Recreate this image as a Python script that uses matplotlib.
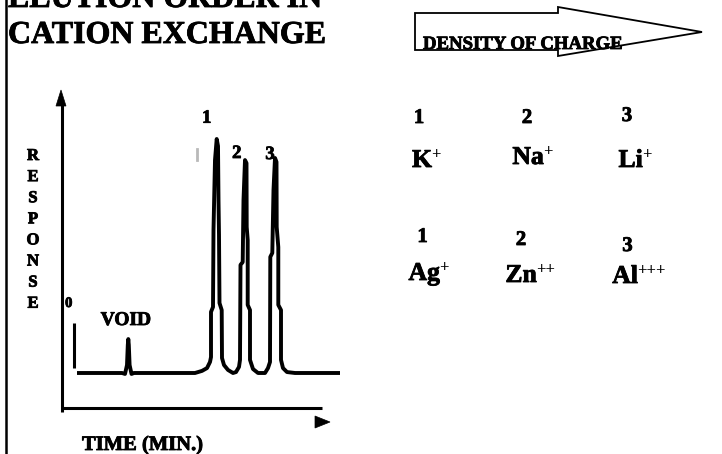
import matplotlib
matplotlib.use("Agg")
import matplotlib.pyplot as plt
from matplotlib.patches import Polygon
import matplotlib.patheffects as pe

# ---- chromatogram trace (time in min, detector response in % of peak 1) ----
time_min = [0.30, 4.80, 5.10, 5.30, 5.38, 5.43, 5.48, 5.56, 5.75, 6.00,
            12.10, 12.80, 13.30, 13.60, 13.70, 13.70, 13.90, 13.95, 14.10, 14.27,
            14.40, 14.45, 14.50, 14.55, 14.77, 14.80, 15.00, 15.40, 15.90, 16.20,
            16.50, 16.60, 16.65, 16.87, 16.95, 17.10, 17.25, 17.27, 17.37, 17.37,
            17.60, 17.60, 17.90, 18.40, 19.10, 19.40, 19.60, 19.63, 19.83, 19.95,
            20.10, 20.25, 20.27, 20.43, 20.43, 20.70, 20.70, 20.90, 21.30, 22.10,
            26.60]
response = [0.0, 0.0, -0.4, 3.4, 12.0, 14.5, 12.0, 3.4, -0.4, 0.0,
            0.0, 0.9, 2.1, 4.7, 6.8, 26.1, 28.2, 61.1, 91.0, 100.0,
            97.0, 73.9, 59.0, 29.9, 26.9, 6.4, 3.4, 1.3, 0.0, 0.4,
            2.6, 5.6, 46.2, 47.4, 73.9, 91.0, 89.7, 62.4, 56.8, 29.1,
            26.9, 5.6, 1.7, 0.0, 0.0, 2.1, 4.7, 49.6, 51.3, 78.2,
            91.9, 90.2, 62.4, 53.8, 29.1, 26.9, 5.6, 2.1, 0.4, 0.0,
            0.0]

# injection mark
inject_time = 0.0
inject_span = [2.1, 21.4]

# ---- text content ----
title_lines = ["ELUTION ORDER IN", "CATION EXCHANGE"]
arrow_label = "DENSITY OF CHARGE"
y_label = "RESPONSE"
x_label = "TIME (MIN.)"
peak_numbers = ["1", "2", "3"]
order_numbers = ["1", "2", "3"]
mono_ions = ["K", "Na", "Li"]
mono_charges = ["+", "+", "+"]
multi_ions = ["Ag", "Zn", "Al"]
multi_charges = ["+", "++", "+++"]

W, H = 722, 454
plt.rcParams["font.family"] = ["Liberation Serif", "DejaVu Serif"]

fig = plt.figure(figsize=(W / 100, H / 100), dpi=100)
fig.patch.set_facecolor("white")

# data axes for the trace
L, R, T, B = 62, 330, 92, 412
ax = fig.add_axes([L / W, 1 - B / H, (R - L) / W, (B - T) / H])
ax.set_xlim(-1.2, 25.6)
ax.set_ylim(-16.67, 120.09)
ax.axis("off")
ax.plot(time_min, response, color="black", lw=2.8, solid_joinstyle="round",
        solid_capstyle="butt", clip_on=False)
ax.plot([inject_time, inject_time], inject_span, color="black", lw=2.2,
        solid_capstyle="butt", clip_on=False)

# overlay in pixel units for the drawn frame and labels
ov = fig.add_axes([0, 0, 1, 1])
ov.set_xlim(0, W)
ov.set_ylim(H, 0)
ov.axis("off")
ov.patch.set_alpha(0)

# page rule on the left
ov.plot([6, 6], [0, H], color="black", lw=1.8)

# response axis with arrow head
ov.plot([62, 62], [412, 104], color="black", lw=2.2, solid_capstyle="butt")
ov.add_patch(Polygon([(61, 90), (56, 106), (66, 106)], closed=True,
                     facecolor="black", edgecolor="black", lw=0.5))
# time axis and its arrow head
ov.plot([62, 322], [408, 408], color="black", lw=2.2, solid_capstyle="butt")
ov.add_patch(Polygon([(315, 416), (315, 428), (330, 422)], closed=True,
                     facecolor="black", edgecolor="black", lw=0.5))

# outlined block arrow
ov.add_patch(Polygon([(415, 13), (558, 13), (558, 7), (702, 32), (558, 56),
                      (558, 50), (415, 50)], closed=True, facecolor="white",
                     edgecolor="black", lw=1.3, zorder=2))

heavy = [pe.withStroke(linewidth=0.6, foreground="black")]
bold = dict(fontweight="bold", color="black", va="baseline", path_effects=heavy)

# title
ov.text(8, 7, title_lines[0], fontsize=23, ha="left", **bold)
ov.text(8, 43, title_lines[1], fontsize=23, ha="left", **bold)

ov.text(423, 49, arrow_label, fontsize=13.5, ha="left", zorder=3, **bold)

# vertical stacked axis label
for i, ch in enumerate(y_label):
    ov.text(33, 160 + 21.1 * i, ch, fontsize=12, ha="center", **bold)

ov.text(82, 450, x_label, fontsize=14.8, ha="left", **bold)

ov.text(68.7, 307, "0", fontsize=10.5, ha="center", **bold)
ov.text(126, 325, "VOID", fontsize=14, ha="center", **bold)

# peak numbers
for s, (x, y) in zip(peak_numbers, [(206.7, 122.7), (236.7, 158), (270, 159)]):
    ov.text(x, y, s, fontsize=13.5, ha="center", **bold)
ov.plot([196.7, 196.7], [149, 160], color="#b9b9b9", lw=2.0)

# elution order table
for s, (x, y) in zip(order_numbers, [(419, 123), (527, 123), (627, 121)]):
    ov.text(x, y, s, fontsize=15, ha="center", **bold)
for s, (x, y) in zip(order_numbers, [(422.5, 242), (521, 245), (627.5, 251)]):
    ov.text(x, y, s, fontsize=15, ha="center", **bold)

sup = dict(fontsize=12, ha="left", fontweight="bold", color="black",
           va="baseline")
for ion, q, (x, y) in zip(mono_ions, mono_charges,
                          [(432, 167), (544, 164), (643, 167)]):
    ov.text(x, y, ion, fontsize=18.5, ha="right", **bold)
    ov.text(x - 0.5, y - 8, q, **sup)

for ion, q, (x, y) in zip(multi_ions, multi_charges,
                          [(440, 280), (537, 282), (638, 283)]):
    ov.text(x, y, ion, fontsize=18.5, ha="right", **bold)
    ov.text(x - 0.5, y - 8, q, **sup)

fig.savefig("out.png", dpi=100)
